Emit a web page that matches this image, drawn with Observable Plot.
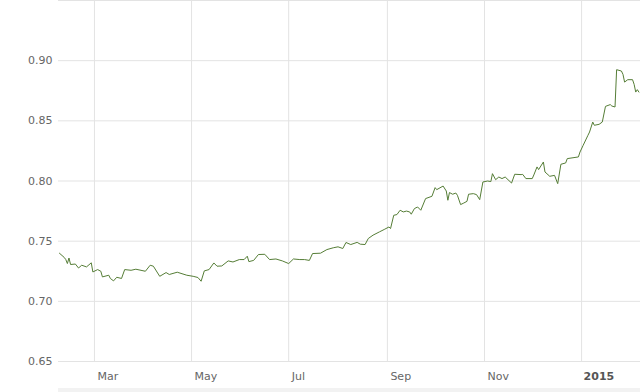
<!DOCTYPE html>
<html>
<head>
<meta charset="utf-8">
<script src="https://cdn.jsdelivr.net/npm/d3@7"></script>
<script src="https://cdn.jsdelivr.net/npm/@observablehq/plot@0.6"></script>
<style>
  html, body { margin: 0; padding: 0; background: #fff; }
  #chart { width: 640px; height: 392px; overflow: hidden; }
  #nav { margin-left: 58px; width: 582px; height: 4px; background: #f2f2f2; }
</style>
</head>
<body>
<div id="chart"></div>
<script>
const dates = [
  "2014-02-07","2014-02-10","2014-02-11","2014-02-12","2014-02-13","2014-02-14","2014-02-17","2014-02-19","2014-02-21","2014-02-24",
  "2014-02-27","2014-02-28","2014-03-03","2014-03-05","2014-03-06","2014-03-10","2014-03-11","2014-03-13","2014-03-15","2014-03-18",
  "2014-03-20","2014-03-24","2014-03-27","2014-04-02","2014-04-05","2014-04-07","2014-04-11","2014-04-15","2014-04-17","2014-04-22",
  "2014-04-28","2014-05-02","2014-05-05","2014-05-07","2014-05-09","2014-05-12","2014-05-15","2014-05-17","2014-05-20","2014-05-24",
  "2014-05-27","2014-05-31","2014-06-03","2014-06-05","2014-06-06","2014-06-09","2014-06-12","2014-06-16","2014-06-19","2014-06-23",
  "2014-06-27","2014-07-01","2014-07-04","2014-07-08","2014-07-11","2014-07-14","2014-07-16","2014-07-21","2014-07-25","2014-07-29",
  "2014-08-01","2014-08-04","2014-08-06","2014-08-09","2014-08-13","2014-08-15","2014-08-18","2014-08-20","2014-08-23","2014-08-27",
  "2014-08-30","2014-09-02","2014-09-03","2014-09-05","2014-09-07","2014-09-09","2014-09-11","2014-09-13","2014-09-15","2014-09-16",
  "2014-09-18","2014-09-20","2014-09-22","2014-09-25","2014-09-29","2014-10-01","2014-10-02","2014-10-06","2014-10-08","2014-10-09",
  "2014-10-10","2014-10-12","2014-10-14","2014-10-15","2014-10-17","2014-10-19","2014-10-21","2014-10-22","2014-10-25","2014-10-27",
  "2014-10-29","2014-10-31","2014-11-03","2014-11-05","2014-11-06","2014-11-08","2014-11-10","2014-11-12","2014-11-14","2014-11-18",
  "2014-11-20","2014-11-24","2014-11-25","2014-11-27","2014-12-01","2014-12-02","2014-12-04","2014-12-05","2014-12-08","2014-12-09",
  "2014-12-12","2014-12-15","2014-12-17","2014-12-19","2014-12-22","2014-12-23","2014-12-30","2014-12-31","2015-01-02","2015-01-05",
  "2015-01-06","2015-01-08","2015-01-09","2015-01-12","2015-01-14","2015-01-16","2015-01-19","2015-01-20","2015-01-22","2015-01-23",
  "2015-01-26","2015-01-27","2015-01-28","2015-01-30","2015-02-02","2015-02-03","2015-02-04","2015-02-05","2015-02-06"
];
const values = [
  0.7400,0.7365,0.7347,0.7314,0.7360,0.7306,0.7310,0.7277,0.7300,0.7286,
  0.7320,0.7244,0.7264,0.7250,0.7203,0.7217,0.7190,0.7170,0.7200,0.7190,
  0.7264,0.7258,0.7267,0.7250,0.7300,0.7292,0.7208,0.7239,0.7223,0.7242,
  0.7217,0.7208,0.7198,0.7167,0.7253,0.7264,0.7319,0.7292,0.7294,0.7336,
  0.7327,0.7347,0.7347,0.7375,0.7330,0.7340,0.7389,0.7391,0.7347,0.7352,
  0.7336,0.7314,0.7352,0.7347,0.7347,0.7340,0.7397,0.7400,0.7430,0.7445,
  0.7453,0.7439,0.7489,0.7472,0.7490,0.7475,0.7472,0.7522,0.7550,0.7577,
  0.7597,0.7618,0.7605,0.7715,0.7721,0.7757,0.7743,0.7750,0.7743,0.7724,
  0.7771,0.7784,0.7757,0.7854,0.7873,0.7945,0.7928,0.7958,0.7917,0.7840,
  0.7904,0.7890,0.7900,0.7881,0.7804,0.7817,0.7831,0.7890,0.7895,0.7887,
  0.7845,0.7992,0.8000,0.7995,0.8061,0.8011,0.8033,0.8020,0.8033,0.7983,
  0.8056,0.8053,0.8055,0.8020,0.8020,0.8050,0.8117,0.8095,0.8158,0.8075,
  0.8039,0.8047,0.7978,0.8139,0.8150,0.8186,0.8200,0.8241,0.8297,0.8380,
  0.8407,0.8490,0.8463,0.8471,0.8490,0.8620,0.8635,0.8623,0.8615,0.8925,
  0.8914,0.8886,0.8822,0.8842,0.8842,0.8803,0.8739,0.8759,0.8739
];
const yTicks = [0.65, 0.70, 0.75, 0.80, 0.85, 0.90];
const yDomain = [0.65, 0.95];
const xDomain = ["2014-02-06T10:00:00Z", "2015-02-07T00:00:00Z"];
const monthTicks = ["2014-03-01", "2014-05-01", "2014-07-01", "2014-09-01", "2014-11-01"];
const monthLabels = ["Mar", "May", "Jul", "Sep", "Nov"];
const yearTicks = ["2015-01-01"];
const yearLabels = ["2015"];

const parse = s => new Date(s.length === 10 ? s + "T00:00:00Z" : s);
const data = dates.map((d, i) => ({date: parse(d), value: values[i]}));
const gridDates = monthTicks.concat(yearTicks).map(parse);
const mTicks = monthTicks.map(parse);
const yrTicks = yearTicks.map(parse);
const mLabel = d => monthLabels[mTicks.findIndex(t => +t === +d)];
const yLabel = d => yearLabels[yrTicks.findIndex(t => +t === +d)];

const chart = Plot.plot({
  width: 640,
  height: 388,
  marginLeft: 58,
  marginRight: 0,
  marginTop: 0,
  marginBottom: 27,
  style: {fontFamily: "'DejaVu Sans', Verdana, sans-serif", fontSize: "11px", background: "#fff"},
  x: {type: "utc", domain: xDomain.map(parse)},
  y: {domain: yDomain},
  marks: [
    Plot.gridY(yTicks, {stroke: "#e3e3e3", strokeOpacity: 1}),
    Plot.ruleY([yDomain[1]], {stroke: "#e3e3e3"}),
    Plot.gridX(gridDates, {stroke: "#e3e3e3", strokeOpacity: 1}),
    Plot.axisY(yTicks, {tickSize: 0, tickPadding: 6, tickFormat: d => d.toFixed(2), fill: "#666", label: null}),
    Plot.axisX(mTicks, {tickSize: 0, tickPadding: 11, tickFormat: mLabel, textAnchor: "start", dx: 3, fill: "#666", label: null}),
    Plot.axisX(yrTicks, {tickSize: 0, tickPadding: 11, tickFormat: yLabel, textAnchor: "start", dx: 2, fill: "#555", fontWeight: "bold", label: null}),
    Plot.lineY(data, {x: "date", y: "value", stroke: "#557d36", strokeWidth: 1})
  ]
});
document.getElementById("chart").appendChild(chart);
const nav = document.createElement("div");
nav.id = "nav";
document.getElementById("chart").appendChild(nav);
</script>
</body>
</html>
